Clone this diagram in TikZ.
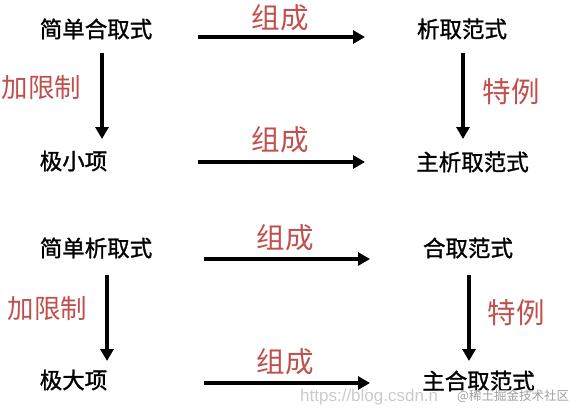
\documentclass[tikz,border=0pt]{standalone}
\usepackage{fontspec}
\newfontfamily\cjk[FakeBold=1.2]{Noto Sans CJK SC}
\newfontfamily\cjkr{Noto Sans CJK SC}
\newfontfamily\wmfont{Liberation Sans}
\usetikzlibrary{arrows.meta}
\definecolor{labred}{HTML}{C0504D}
\definecolor{wmgray}{HTML}{CACACA}
\begin{document}
\begin{tikzpicture}[x=1pt,y=-1pt,
  term/.style={inner sep=0pt,font=\cjk\fontsize{22.5}{26}\selectfont},
  rel/.style={inner sep=0pt,text=labred,font=\cjkr\fontsize{#1}{32}\selectfont},
  rel/.default=28.5,
  conn/.style={line width=4.5pt,-{Triangle[length=12pt,width=13pt]}},
  wm/.style={inner sep=0pt,text=wmgray,anchor=west}]
\useasboundingbox (0,0) rectangle (576,413);
% top block
\node[term] (a1) at (96,29) {简单合取式};
\node[term] (b1) at (462,29) {析取范式};
\node[term] (c1) at (73.5,161) {极小项};
\node[term] (d1) at (472.5,162) {主析取范式};
\coordinate (a1e) at (198,37); \coordinate (b1w) at (365,37);
\coordinate (c1e) at (198,162); \coordinate (d1w) at (365,162);
\coordinate (a1s) at (102,53); \coordinate (c1n) at (102,139);
\coordinate (b1s) at (463,53); \coordinate (d1n) at (463,139);
\draw[conn] (a1e) -- (b1w);
\draw[conn] (c1e) -- (d1w);
\draw[conn] (a1s) -- (c1n);
\draw[conn] (b1s) -- (d1n);
\node[rel] (l1) at (280,17.5) {组成};
\node[rel] (l2) at (280,140) {组成};
\node[rel=26.5] (l3) at (41.5,87) {加限制};
\node[rel] (l4) at (511,92) {特例};
% bottom block
\node[term] (a2) at (96,248) {简单析取式};
\node[term] (b2) at (468,248) {合取范式};
\node[term] (c2) at (73.5,380) {极大项};
\node[term] (d2) at (478.5,381) {主合取范式};
\coordinate (a2e) at (204,259); \coordinate (b2w) at (370,259);
\coordinate (c2e) at (204,383); \coordinate (d2w) at (370,383);
\coordinate (a2s) at (107,275); \coordinate (c2n) at (107,361);
\coordinate (b2s) at (469,275); \coordinate (d2n) at (469,361);
\draw[conn] (a2e) -- (b2w);
\draw[conn] (c2e) -- (d2w);
\draw[conn] (a2s) -- (c2n);
\draw[conn] (b2s) -- (d2n);
\node[rel] (l5) at (285,238) {组成};
\node[rel] (l6) at (285,362) {组成};
\node[rel=26.5] (l7) at (47.5,308) {加限制};
\node[rel] (l8) at (516,313) {特例};
% watermark
\node[wm,font=\wmfont\fontsize{17}{19}\selectfont] (w1) at (300,397) {https://blog.csdn.n};
\node[wm,text=gray!75,font=\cjkr\fontsize{12.5}{14}\selectfont,fill=white,fill opacity=0.6,text opacity=1] (w2) at (457,396) {@稀土掘金技术社区};
\end{tikzpicture}
\end{document}
